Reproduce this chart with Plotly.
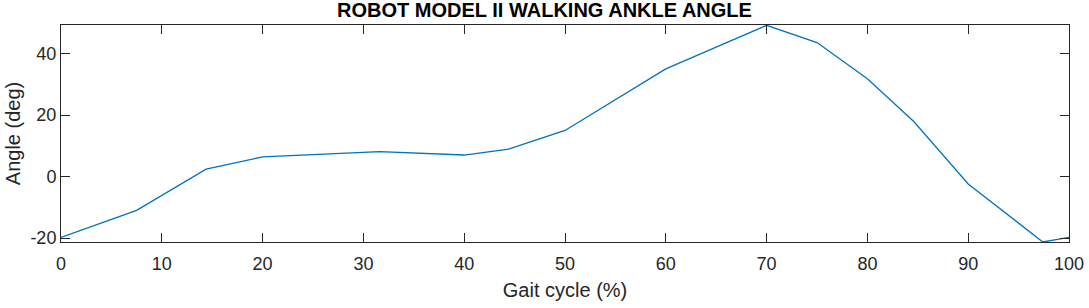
import plotly.graph_objects as go

gait = [0, 7.5, 14.4, 20, 31.6, 40, 44.4, 50, 60, 70, 75, 80, 84.6, 90, 97.4, 100]
angle = [-19.8, -11.0, 2.4, 6.4, 8.1, 7.0, 8.9, 15.0, 35.0, 49.2, 43.6, 31.8, 17.9, -2.4, -21.3, -19.8]

x_ticks = [0, 10, 20, 30, 40, 50, 60, 70, 80, 90, 100]
y_ticks = [-20, 0, 20, 40]
y_tick_labels = ["-20", "0", "20", "40"]

FONT = "Liberation Sans, Arial"
fig = go.Figure()
fig.add_trace(go.Scatter(x=gait, y=angle, mode="lines",
                         line=dict(color="#0072BD", width=1.3), showlegend=False))

axis_common = dict(showgrid=False, zeroline=False, showline=True, linecolor="#262626",
                   linewidth=1, mirror="ticks", ticks="inside", ticklen=9, tickcolor="#262626",
                   automargin=False,
                   tickfont=dict(family=FONT, size=18, color="#262626"))
fig.update_xaxes(range=[0, 100], tickvals=x_ticks, ticklabelstandoff=5,
                 title=dict(text="Gait cycle (%)", font=dict(family=FONT, size=20, color="#262626"), standoff=10),
                 **axis_common)
fig.update_yaxes(range=[-21.3, 49.3], tickvals=y_ticks, ticktext=y_tick_labels,
                 title=dict(text="Angle (deg)", font=dict(family=FONT, size=20, color="#262626"), standoff=4),
                 **axis_common)
fig.update_layout(
    width=1089, height=308,
    margin=dict(l=61, r=20, t=25, b=66, autoexpand=False),
    paper_bgcolor="white", plot_bgcolor="white",
    title=dict(text="<b>ROBOT MODEL II WALKING ANKLE ANGLE</b>", x=0.5, xanchor="center",
               y=1, yanchor="top", pad=dict(t=3),
               font=dict(family=FONT, size=20, color="black")),
)
fig.write_html("out.html", config={"displayModeBar": False},
               post_script="document.body.style.margin='0';document.body.style.overflow='hidden';")
